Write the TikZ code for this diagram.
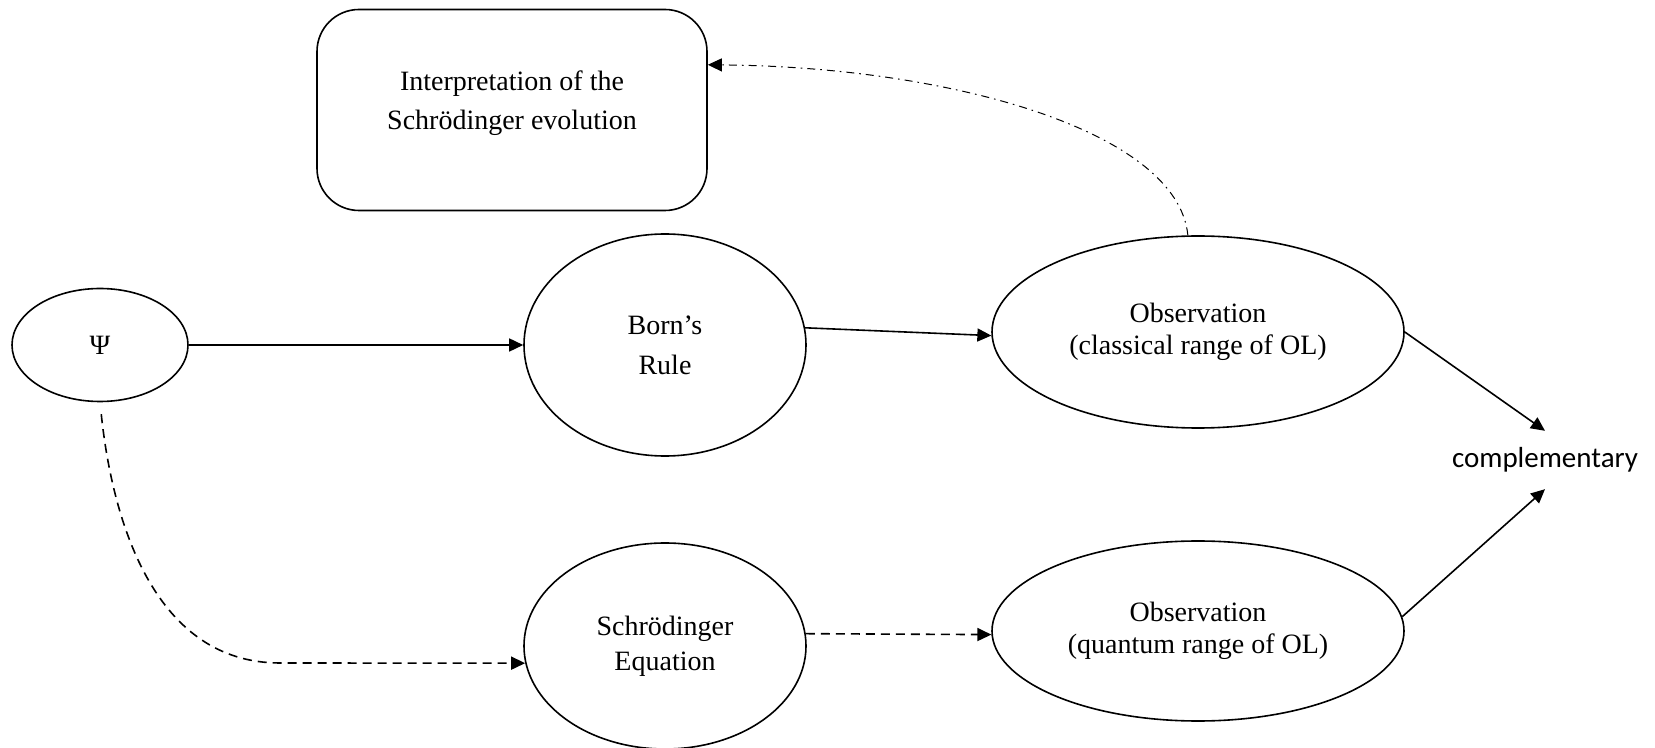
\documentclass[tikz,border=0pt]{standalone}
\usepackage{fontspec}
\setmainfont{Liberation Serif}
\newfontfamily\calfont{Carlito}
\usepackage{tikz}
\usetikzlibrary{arrows.meta,shapes.geometric}

\begin{document}
\begin{tikzpicture}[x=0.5pt,y=0.5pt,
    >={Triangle[length=7pt,width=6.5pt]},
    every path/.style={line width=0.8pt},
    oval/.style={ellipse,draw,align=center,inner sep=1pt,font=\fontsize{14}{17.5}\selectfont},
    dashline/.style={dash pattern=on 4.5pt off 3pt},
    dotdash/.style={line width=0.5pt,dash pattern=on 4pt off 2.5pt on 0.8pt off 2.5pt}]
  \useasboundingbox (0,0) rectangle (1655,-748);

   \draw (512,-110) node[draw,rounded corners=21pt,minimum width=195pt,minimum height=100.5pt,align=center,font=\fontsize{14}{19.5}\selectfont] (interp) {Interpretation of the\\Schrödinger evolution\\[-10pt]\mbox{}};
  \draw (100,-345) node[oval,minimum width=88pt,minimum height=56.5pt] (psi) {Ψ};
      \draw (665,-345) node[oval,minimum width=141pt,minimum height=111pt,font=\fontsize{14}{20}\selectfont] (born) {Born’s\\Rule};
  \draw (665,-646) node[oval,minimum width=141pt,minimum height=103pt] (schrod) {Schrödinger\\Equation};
	\draw (1198,-332) node[oval,minimum width=206pt,minimum height=96pt,font=\fontsize{14}{16}\selectfont] (obsC) {Observation\\(classical range of OL)};
  \draw (1198,-631) node[oval,minimum width=206pt,minimum height=90pt,font=\fontsize{14}{16}\selectfont] (obsQ) {Observation\\(quantum range of OL)};
	\draw (1545,-460) node[inner xsep=2pt,inner ysep=8pt,font=\calfont\fontsize{14.5}{17}\selectfont] (comp) {complementary};
	      \coordinate (dip) at (280,-663);

    \path[->] (psi) edge (born);
    \path[->] (born.7) edge (obsC.181);
	  \path[->,dashline] (schrod.5) edge (obsQ.181);
    \path[->] (obsC.east) edge (comp.north);
    \path[->] (obsQ.4) edge (comp.south);
	\draw[->,dashline,shorten <=6pt] (psi.south) to[out=-84,in=180] (dip) -- (schrod.187);
	\draw[->,dotdash] (obsC.96) .. controls +(-10,104) and +(243,-2) .. (interp.13);

\end{tikzpicture}
\end{document}
